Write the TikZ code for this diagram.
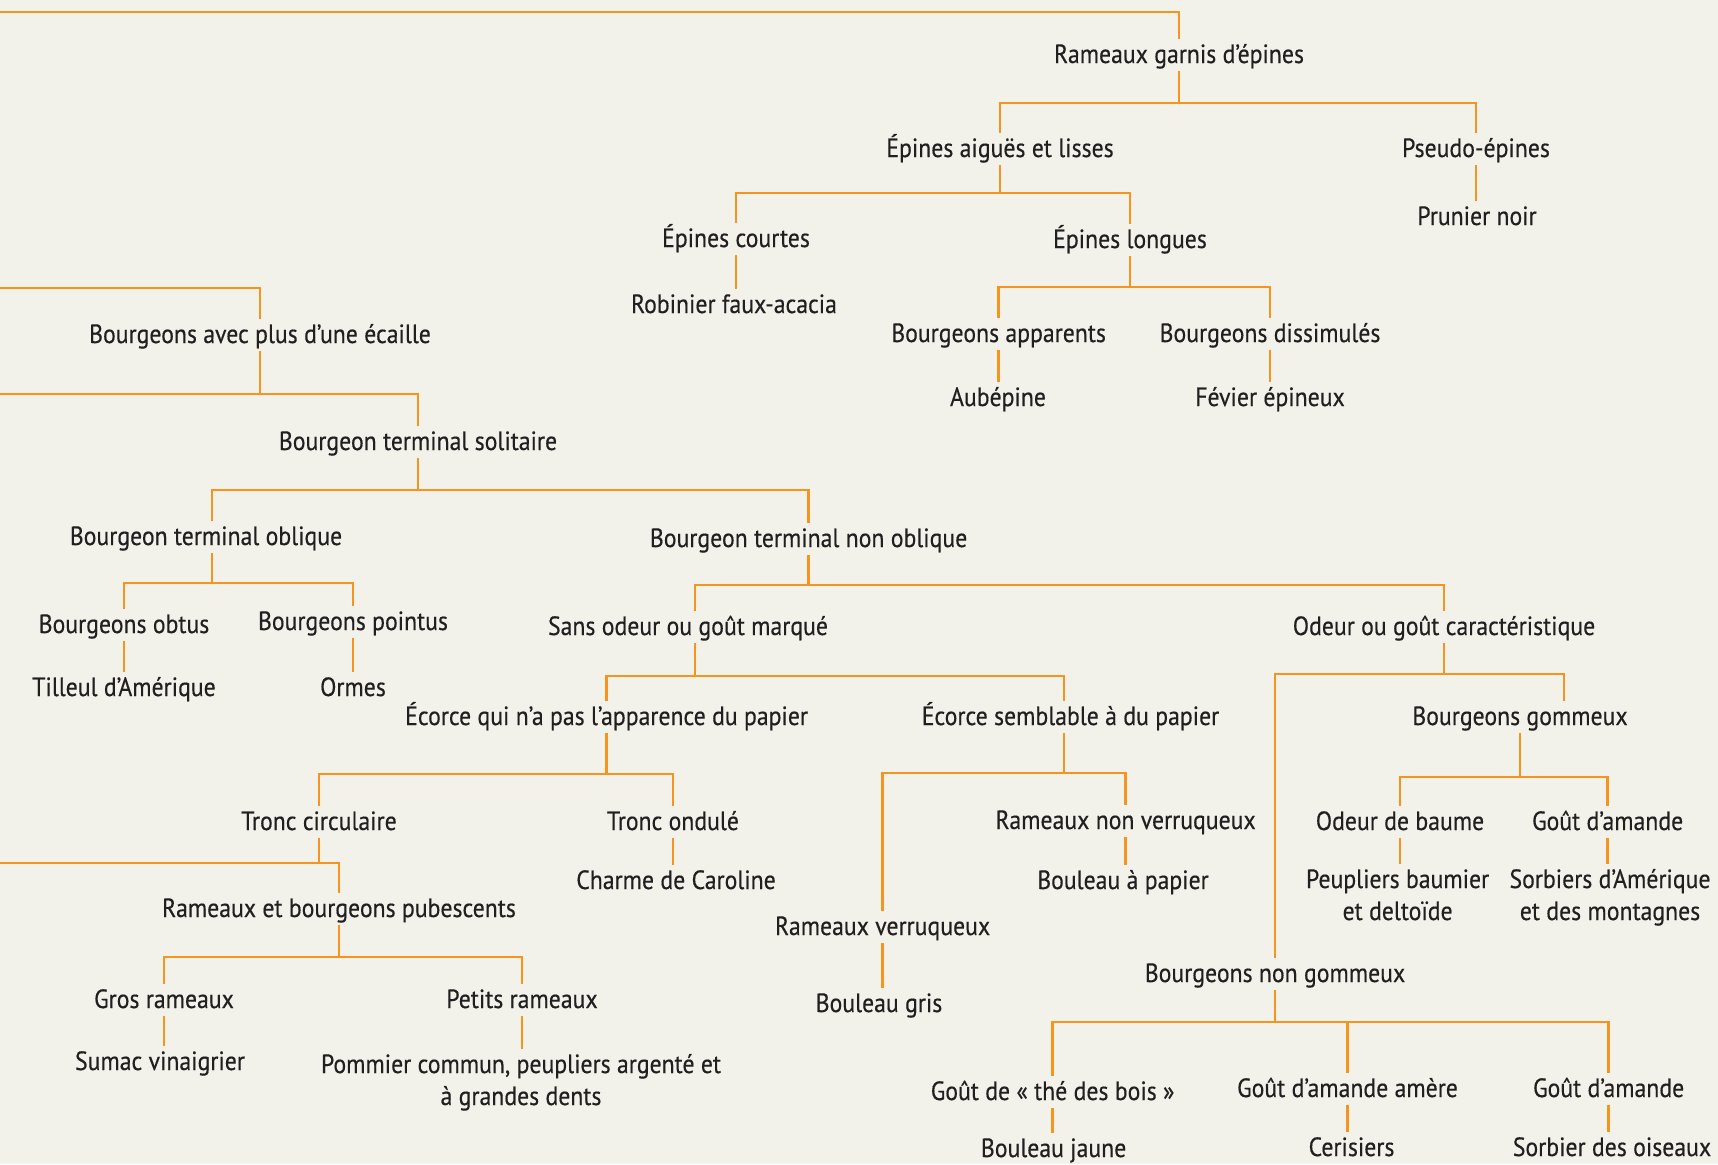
\documentclass[tikz,border=0pt]{standalone}
\usepackage{fontspec}
\setmainfont{PT Sans}[FakeStretch=0.9,FakeBold=0.4]
\usetikzlibrary{calc}
\definecolor{bgc}{HTML}{F3F2EA}
\definecolor{org}{HTML}{F7941D}
\definecolor{txt}{HTML}{231F20}
\tikzset{
  lbl/.style={font=\fontsize{13.2}{16}\selectfont, text=txt, inner xsep=0pt, inner ysep=3pt,
              text height=9pt, text depth=1pt, anchor=base},
  conn/.style={draw=org, line width=1.3pt},
}
\newcommand{\twol}[2]{\begin{tabular}[t]{@{}c@{}}#1\\#2\end{tabular}}
\begin{document}
\begin{tikzpicture}[x=0.5pt,y=-0.5pt]
\fill[bgc] (0,0) rectangle (1718,1164);
\useasboundingbox (0,0) rectangle (1718,1164);

% ---------- nodes ----------
\node[lbl] (RG)   at (1179,63)  {Rameaux garnis d’épines};
\node[lbl] (EAL)  at (1000,157) {Épines aiguës et lisses};
\node[lbl] (PE)   at (1476,157) {Pseudo-épines};
\node[lbl] (PN)   at (1477,225) {Prunier noir};
\node[lbl] (EC)   at (736,247)  {Épines courtes};
\node[lbl] (EL)   at (1130,248) {Épines longues};
\node[lbl] (RFA)  at (734,313)  {Robinier faux-acacia};
\node[lbl] (BA)   at (998.6,342) {Bourgeons apparents};
\node[lbl] (BD)   at (1270,342) {Bourgeons dissimulés};
\node[lbl] (AUB)  at (998,406)  {Aubépine};
\node[lbl] (FE)   at (1270,406) {Févier épineux};

\node[lbl] (BAP)  at (260,343)  {Bourgeons avec plus d’une écaille};
\node[lbl] (BTS)  at (418,450)  {Bourgeon terminal solitaire};
\node[lbl] (BTO)  at (206,545)  {Bourgeon terminal oblique};
\node[lbl] (BTNO) at (808.6,547) {Bourgeon terminal non oblique};
\node[lbl] (BO)   at (124,633)  {Bourgeons obtus};
\node[lbl] (BP)   at (353,630)  {Bourgeons pointus};
\node[lbl] (TA)   at (124,696)  {Tilleul d’Amérique};
\node[lbl] (ORM)  at (353,696)  {Ormes};
\node[lbl] (SO)   at (688,635)  {Sans odeur ou goût marqué};
\node[lbl] (OGC)  at (1444,635) {Odeur ou goût caractéristique};
\node[lbl] (ECP)  at (606.6,725) {Écorce qui n’a pas l’apparence du papier};
\node[lbl] (ESP)  at (1070.5,725) {Écorce semblable à du papier};
\node[lbl] (BG)   at (1520,725) {Bourgeons gommeux};

\node[lbl] (TC)   at (319,830)  {Tronc circulaire};
\node[lbl] (TO)   at (673,830)  {Tronc ondulé};
\node[lbl] (CC)   at (676,889)  {Charme de Caroline};
\node[lbl] (RV)   at (882.6,935) {Rameaux verruqueux};
\node[lbl] (BGr)  at (879,1012) {Bouleau gris};
\node[lbl] (RNV)  at (1125.6,829) {Rameaux non verruqueux};
\node[lbl] (BPap) at (1123,889) {Bouleau à papier};
\node[lbl] (RBP)  at (339,917)  {Rameaux et bourgeons pubescents};
\node[lbl] (GR)   at (164,1008) {Gros rameaux};
\node[lbl] (PR)   at (522,1008) {Petits rameaux};
\node[lbl] (SV)   at (160,1070) {Sumac vinaigrier};
\node[lbl] (PC)   at (521,1073) {\twol{Pommier commun, peupliers argenté et}{à grandes dents}};

\node[lbl] (OB)   at (1400,830) {Odeur de baume};
\node[lbl] (GA1)  at (1607.6,830) {Goût d’amande};
\node[lbl] (PBD)  at (1397.6,888) {\twol{Peupliers baumier}{et deltoïde}};
\node[lbl] (SAM)  at (1610,888) {\twol{Sorbiers d’Amérique}{et des montagnes}};
\node[lbl] (BNG)  at (1275,982) {Bourgeons non gommeux};
\node[lbl] (GTB)  at (1052.6,1100) {Goût de « thé des bois »};
\node[lbl] (GAA)  at (1347.5,1097) {Goût d’amande amère};
\node[lbl] (GA2)  at (1608.6,1097) {Goût d’amande};
\node[lbl] (BJ)   at (1053.6,1157) {Bouleau jaune};
\node[lbl] (CER)  at (1351.5,1156) {Cerisiers};
\node[lbl] (SDO)  at (1612,1156) {Sorbier des oiseaux};

% ---------- helper coordinates ----------
\coordinate (offTop) at (0,12);
\coordinate (offA)   at (0,288);
\coordinate (offB)   at (0,394);
\coordinate (offC)   at (0,863);
\coordinate (BTOn) at ([xshift=3pt]BTO.north);
\coordinate (BTOs) at ([xshift=3pt]BTO.south);
\coordinate (SOn)  at ([xshift=3.5pt]SO.north);
\coordinate (SOs)  at ([xshift=3.5pt]SO.south);
\coordinate (ESPn) at ([xshift=-3.25pt]ESP.north);
\coordinate (ESPs) at ([xshift=-3.25pt]ESP.south);
\coordinate (BGn)  at ([xshift=22pt]BG.north);

% ---------- connectors ----------
\draw[conn] (offTop) -| (RG.north);
\draw[conn] (RG.south) |- (EAL.north |- 0,103) -- (EAL.north);
\draw[conn] (RG.south) |- (PE.north |- 0,103) -- (PE.north);
\draw[conn] (PE.south) -- (PE.south |- PN.north);
\draw[conn] (EAL.south) |- (EC.north |- 0,193) -- (EC.north);
\draw[conn] (EAL.south) |- (EL.north |- 0,193) -- (EL.north);
\draw[conn] (EC.south) -- (EC.south |- RFA.north);
\draw[conn] (EL.south) |- (BA.north |- 0,287) -- (BA.north);
\draw[conn] (EL.south) |- (BD.north |- 0,287) -- (BD.north);
\draw[conn] (BA.south) -- (BA.south |- AUB.north);
\draw[conn] (BD.south) -- (BD.south |- FE.north);

\draw[conn] (offA) -| (BAP.north);
\draw[conn] (BAP.south) |- (offB);
\draw[conn] (BAP.south) |- (BTS.north |- 0,394) -- (BTS.north);
\draw[conn] (BTS.south) |- (BTOn |- 0,490) -- (BTOn);
\draw[conn] (BTS.south) |- (BTNO.north |- 0,490) -- (BTNO.north);
\draw[conn] (BTOs) |- (BO.north |- 0,583) -- (BO.north);
\draw[conn] (BTOs) |- (BP.north |- 0,583) -- (BP.north);
\draw[conn] (BO.south) -- (BO.south |- TA.north);
\draw[conn] (BP.south) -- (BP.south |- ORM.north);
\draw[conn] (BTNO.south) |- (SOn |- 0,585) -- (SOn);
\draw[conn] (BTNO.south) |- (OGC.north |- 0,585) -- (OGC.north);
\draw[conn] (SOs) |- (ECP.north |- 0,676) -- (ECP.north);
\draw[conn] (SOs) |- (ESPn |- 0,676) -- (ESPn);
\draw[conn] (OGC.south) |- (BNG.north |- 0,674) -- (BNG.north);
\draw[conn] (OGC.south) |- (BGn |- 0,674) -- (BGn);

\draw[conn] (ECP.south) |- (TC.north |- 0,774) -- (TC.north);
\draw[conn] (ECP.south) |- (TO.north |- 0,774) -- (TO.north);
\draw[conn] (TO.south) -- (TO.south |- CC.north);
\draw[conn] (TC.south) |- (offC);
\draw[conn] (TC.south) |- (RBP.north |- 0,863) -- (RBP.north);
\draw[conn] (RBP.south) |- (GR.north |- 0,957) -- (GR.north);
\draw[conn] (RBP.south) |- (PR.north |- 0,957) -- (PR.north);
\draw[conn] (GR.south) -- (GR.south |- SV.north);
\draw[conn] (PR.south) -- (PR.south |- PC.north);

\draw[conn] (ESPs) |- (RV.north |- 0,773) -- (RV.north);
\draw[conn] (ESPs) |- (RNV.north |- 0,773) -- (RNV.north);
\draw[conn] (RV.south) -- (RV.south |- BGr.north);
\draw[conn] (RNV.south) -- (RNV.south |- BPap.north);

\draw[conn] (BG.south) |- (OB.north |- 0,777) -- (OB.north);
\draw[conn] (BG.south) |- (GA1.north |- 0,777) -- (GA1.north);
\draw[conn] (OB.south) -- (OB.south |- PBD.north);
\draw[conn] (GA1.south) -- (GA1.south |- SAM.north);

\draw[conn] (BNG.south) |- (GTB.north |- 0,1022) -- (GTB.north);
\draw[conn] (BNG.south) |- (GAA.north |- 0,1022) -- (GAA.north);
\draw[conn] (BNG.south) |- (GA2.north |- 0,1022) -- (GA2.north);
\draw[conn] (GTB.south) -- (GTB.south |- BJ.north);
\draw[conn] (GAA.south) -- (GAA.south |- CER.north);
\draw[conn] (GA2.south) -- (GA2.south |- SDO.north);
\end{tikzpicture}
\end{document}
